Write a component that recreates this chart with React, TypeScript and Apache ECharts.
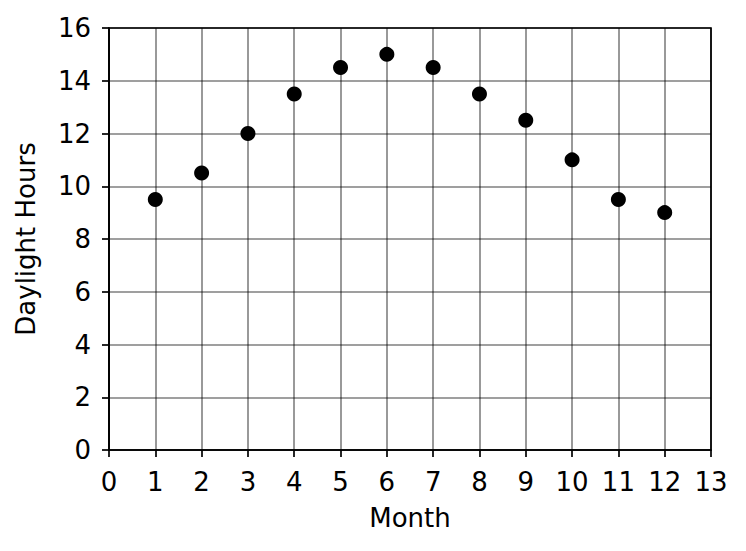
import React, { useEffect, useRef } from "react";
import * as echarts from "echarts";

const months = [1, 2, 3, 4, 5, 6, 7, 8, 9, 10, 11, 12];
const daylightHours = [9.5, 10.5, 12, 13.5, 14.5, 15, 14.5, 13.5, 12.5, 11, 9.5, 9];

const FONT = "DejaVu Sans";

export default function App() {
  const ref = useRef<HTMLDivElement>(null);
  useEffect(() => {
    if (!ref.current) return;
    const chart = echarts.init(ref.current, undefined, { renderer: "svg" });
    chart.setOption({
      animation: false,
      backgroundColor: "#ffffff",
      grid: {
        left: 109,
        top: 28,
        right: 35,
        bottom: 101,
        show: true,
        borderColor: "#000",
        borderWidth: 1.7,
        backgroundColor: "transparent",
      },
      xAxis: {
        type: "value",
        min: 0,
        max: 13,
        interval: 1,
        name: "Month",
        nameLocation: "middle",
        nameGap: 55,
        nameTextStyle: { fontFamily: FONT, fontSize: 26, color: "#000" },
        axisLine: { show: true, onZero: false, lineStyle: { color: "#000", width: 1.7 } },
        axisTick: { show: true, inside: false, length: 7, lineStyle: { color: "#000", width: 1.7 } },
        axisLabel: { fontFamily: FONT, fontSize: 26, color: "#000", margin: 19 },
        splitLine: { show: true, lineStyle: { color: "rgba(0,0,0,0.5)", width: 1.6 } },
      },
      yAxis: {
        type: "value",
        min: 0,
        max: 16,
        interval: 2,
        name: "Daylight Hours",
        nameLocation: "middle",
        nameGap: 70,
        nameRotate: 90,
        nameTextStyle: { fontFamily: FONT, fontSize: 26, color: "#000" },
        axisLine: { show: true, onZero: false, lineStyle: { color: "#000", width: 1.7 } },
        axisTick: { show: true, inside: false, length: 7, lineStyle: { color: "#000", width: 1.7 } },
        axisLabel: { fontFamily: FONT, fontSize: 26, color: "#000", margin: 18 },
        splitLine: { show: true, lineStyle: { color: "rgba(0,0,0,0.5)", width: 1.6 } },
      },
      series: [
        {
          type: "scatter",
          data: months.map((m, i) => [m, daylightHours[i]]),
          symbol: "circle",
          symbolSize: 15,
          itemStyle: { color: "#000", opacity: 1 },
        },
      ],
    });
    return () => chart.dispose();
  }, []);
  return (
    <div
      ref={ref}
      style={{ position: "fixed", left: 0, top: 0, width: 746, height: 551, background: "#fff" }}
    />
  );
}
